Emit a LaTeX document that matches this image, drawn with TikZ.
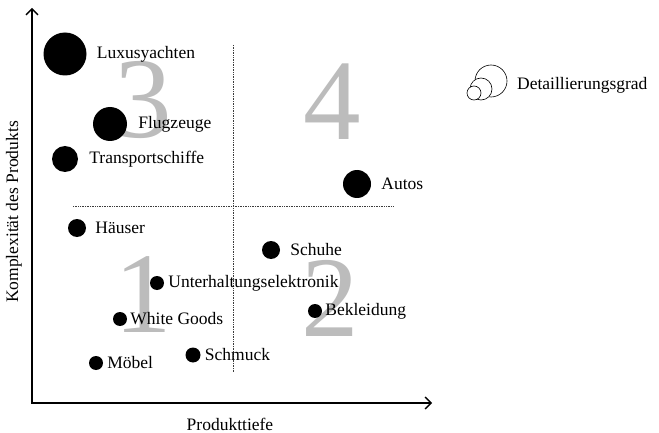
\documentclass[tikz,border=0pt]{standalone}
\usepackage{fontspec}
\setmainfont{Liberation Serif}
\usepackage{tikz}
\usetikzlibrary{arrows.meta,positioning}
\usepackage{xcolor}
\definecolor{quadcol}{RGB}{188,188,188}
\definecolor{divcol}{RGB}{60,60,60}
\tikzset{
  % axis with open barb tips
  axis/.style={{Straight Barb[length=6pt,width=12pt]}-{Straight Barb[length=6pt,width=12pt]}, line width=1.4pt},
  % dotted quadrant divider
  divider/.style={densely dotted, line width=0.7pt, draw=divcol},
  % product dot
  pdot/.style={circle, fill=black, inner sep=0pt, minimum size=#1},
  pdot/.default={14pt},
  % product label
  plabel/.style={font=\fontsize{17.5}{20}\selectfont, inner sep=0pt, anchor=west},
  % axis caption
  axislabel/.style={font=\fontsize{17.5}{20}\selectfont, inner sep=0pt},
  % big quadrant number
  quadnum/.style={font=\fontsize{115}{115}\selectfont, text=quadcol, inner sep=0pt},
  % legend circle
  lcirc/.style={circle, draw=black, fill=white, line width=0.6pt, inner sep=0pt, minimum size=#1},
}

\begin{document}
\begin{tikzpicture}[x=1pt, y=-1pt]
  \useasboundingbox (0,0) rectangle (659,433);

  % ═══════ AXES ═══════
  \coordinate (ytip) at (32,8);
  \coordinate (origin) at (32,403);
  \coordinate (xtip) at (432,403);
  \draw[axis] (ytip) -- (origin) -- (xtip);
  \node[axislabel, rotate=90] (ylab) at (14,212) {Komplexität des Produkts};
  \node[axislabel] (xlab) at (230,424) {Produkttiefe};

  % ═══════ QUADRANTS ═══════
  \coordinate (vtop) at (233,45);
  \coordinate (vbot) at (233,372);
  \coordinate (hleft) at (73,206);
  \coordinate (hright) at (393,206);
  \draw[divider] (vtop) -- (vbot);
  \draw[divider] (hleft) -- (hright);
  \node[quadnum] (q1) at (143,295) {1};
  \node[quadnum] (q2) at (330,298) {2};
  \node[quadnum] (q3) at (143,100) {3};
  \node[quadnum] (q4) at (332,102) {4};

  % ═══════ PRODUCTS ═══════
  \node[pdot=43pt] (lux) at (65,54) {};
  \node[plabel, right=10pt of lux] (luxlab) {Luxusyachten};
  \node[pdot=34pt] (flug) at (110,124) {};
  \node[plabel, right=11pt of flug] (fluglab) {Flugzeuge};
  \node[pdot=26pt] (trans) at (65,159) {};
  \node[plabel, right=11pt of trans] (translab) {Transportschiffe};
  \node[pdot=28pt] (auto) at (357,184) {};
  \node[plabel, right=10pt of auto] (autolab) {Autos};
  \node[pdot=18pt] (haus) at (77,228) {};
  \node[plabel, right=9pt of haus] (hauslab) {Häuser};
  \node[pdot=18pt] (schuh) at (271,250) {};
  \node[plabel, right=10pt of schuh] (schuhlab) {Schuhe};
  \node[pdot] (elek) at (157,283) {};
  \node[plabel, right=4pt of elek] (elekab) {Unterhaltungselektronik};
  \node[pdot] (bekl) at (315,311) {};
  \node[plabel, right=3pt of bekl] (bekllab) {Bekleidung};
  \node[pdot] (white) at (120,319) {};
  \node[plabel, right=3pt of white] (whitelab) {White Goods};
  \node[pdot] (moebel) at (96,363) {};
  \node[plabel, right=4pt of moebel] (moebellab) {Möbel};
  \node[pdot=15pt] (schm) at (193,355) {};
  \node[plabel, right=4pt of schm] (schmlab) {Schmuck};

  % ═══════ LEGEND ═══════
  \node[lcirc=32pt] (lbig) at (491,81) {};
  \node[lcirc=22pt] (lmid) at (481,89) {};
  \node[lcirc=14pt] (lsmall) at (474,93) {};
  \node[plabel] (leglab) at (517,85) {Detaillierungsgrad};

\end{tikzpicture}
\end{document}
